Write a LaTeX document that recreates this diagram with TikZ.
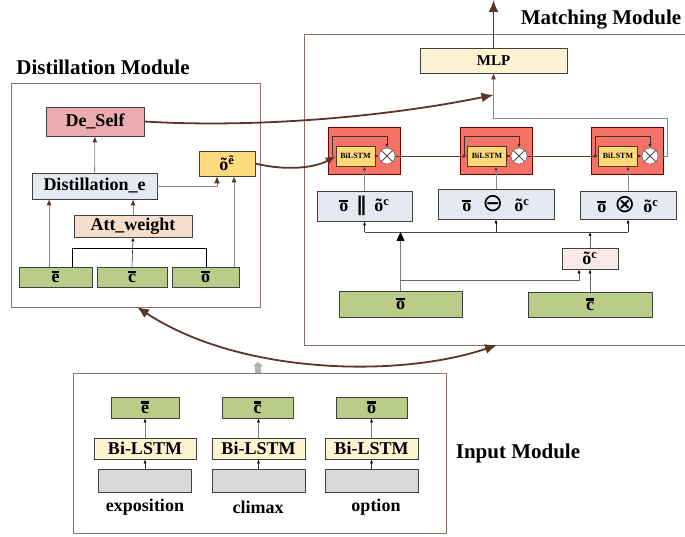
\documentclass[tikz,border=0pt]{standalone}
\usepackage{fontspec}
\setmainfont{Liberation Serif}
\newfontfamily\symf{DejaVu Sans}
\usetikzlibrary{arrows.meta}

\definecolor{brn}{RGB}{92,52,40}
\definecolor{frm}{RGB}{140,112,104}
\definecolor{lng}{RGB}{150,132,128}
\definecolor{vgreen}{RGB}{185,205,137}
\definecolor{selfred}{RGB}{236,171,174}
\definecolor{bluegr}{RGB}{228,233,242}
\definecolor{oyel}{RGB}{253,220,128}
\definecolor{peach}{RGB}{247,221,203}
\definecolor{cream}{RGB}{253,242,210}
\definecolor{cellred}{RGB}{244,115,102}
\definecolor{cellyel}{RGB}{253,218,120}
\definecolor{ocpink}{RGB}{251,232,232}
\definecolor{embgray}{RGB}{217,217,217}

\newcommand{\vb}[1]{\leavevmode\vbox{\hrule height 2.4pt\kern 1.2pt\hbox{\bfseries #1}}}

\begin{document}
\begin{tikzpicture}[x=1pt, y=-1pt,
        box/.style={draw=black!75, line width=0.7pt, inner sep=0pt, font=\fontsize{18}{20}\selectfont\bfseries},
        vec/.style={box, fill=vgreen},
        modframe/.style={draw=frm, line width=0.8pt},
        title/.style={font=\fontsize{21}{24}\selectfont\bfseries},
        cell/.style={draw=red!45!black, fill=cellred, line width=0.6pt, minimum width=72pt, minimum height=47pt},
        lstm/.style={draw=brn, fill=cellyel, line width=0.6pt, minimum width=39pt, minimum height=20pt, inner sep=0pt, font=\fontsize{8}{9}\selectfont\bfseries},
        mul/.style={circle, draw=black!70, fill=white, minimum size=16pt, inner sep=0pt,
            path picture={\draw[black!70, line width=0.8pt] (path picture bounding box.45) -- (path picture bounding box.225)
                (path picture bounding box.135) -- (path picture bounding box.315);}},
        arrow/.style={draw=lng, line width=0.8pt, -{Latex[length=6pt,width=5pt,color=brn]}},
        cellarrow/.style={draw=black!80, line width=0.6pt, -{Latex[length=4pt,width=3.5pt]}},
        small/.style={draw=black!80, line width=0.6pt, -{Latex[length=4pt,width=3pt,color=black]}},
        big/.style={draw=brn, line width=1.8pt, -{Latex[length=12pt,width=10pt]}}
    ]
    \useasboundingbox (0,0) rectangle (685,537);

    % Distillation module
    \node[title] (disttitle) at (103,67) {Distillation Module};
    \draw[modframe] (11,83) rectangle (260,307);
    \node[box, fill=selfred, minimum width=98pt, minimum height=29pt] (deself) at (95,121.5) {De\_Self};
    \node[box, fill=bluegr, minimum width=125pt, minimum height=26pt] (diste) at (94.5,186) {Distillation\_e};
    \node[box, fill=oyel, minimum width=56pt, minimum height=25pt] (oe) at (227,163.5) {õ\textsuperscript{ẽ}};
    \node[box, fill=peach, minimum width=118pt, minimum height=22pt] (attw) at (133,226) {Att\_weight};
    \node[vec, minimum width=73pt, minimum height=20pt] (de) at (55.5,277) {\vb{e}};
    \node[vec, minimum width=70pt, minimum height=20pt] (dc) at (132,277) {\vb{c}};
    \node[vec, minimum width=67pt, minimum height=20pt] (do) at (205.5,277) {\vb{o}};

    \draw[arrow] (diste) -- (deself);
    \draw[arrow] ([xshift=-6.5pt]de.north) -- ([xshift=-6.5pt]de.north |- diste.south);
    \draw[arrow] (attw.north) -- (attw.north |- diste.south);
    \draw[arrow, -{Latex[length=7pt,width=6pt,color=brn]}] (diste.east) -| ([xshift=-10pt]oe.south);
    \draw[arrow] ([xshift=28.5pt]do.north) -- ([xshift=7pt]oe.south);
    \draw[black, line width=0.6pt] ([xshift=16.5pt]de.north) -- ++(0,-18) -| ([xshift=0.5pt]do.north);
    \draw[small] (dc.north) -- (attw.south);

    % Matching module
    \node[title] (matchtitle) at (601,20) {Matching Module};
    \draw[modframe] (304,34) rectangle (700,345);
    \node[box, fill=cream, minimum width=147pt, minimum height=25pt, font=\fontsize{15}{17}\selectfont\bfseries] (mlp) at (493.5,60.5) {MLP};
    \coordinate (out) at (493.5,0);
    \draw[big] (mlp) -- (out);

    \foreach \i/\cx/\lx/\mx in {1/364/355.5/387, 2/496/487/519, 3/627.5/618/650} {
        \node[cell] (cell\i) at (\cx,150.5) {};
        \node[lstm] (bl\i) at (\lx,156) {BiLSTM};
        \node[mul] (mul\i) at (\mx,156) {};
        \draw[cellarrow] (bl\i) -- (mul\i);
        \coordinate (in\i) at ([xshift=-3pt]bl\i.west);
        \draw[cellarrow] (in\i) |- ([yshift=20pt]mul\i.center) -- (mul\i.north);
    }
    \draw[cellarrow, draw=brn] (mul1) -- (bl2);
    \draw[cellarrow, draw=brn] (mul2) -- (bl3);
    \draw[arrow] (mul3.east) -- ++(9,0) |- ([yshift=-45pt]mlp.south) -- (mlp.south);

    \node[box, fill=bluegr, minimum width=95pt, minimum height=30pt] (op1) at (364.5,206)
        {\vb{o}\hspace{8pt}{\symf\bfseries\fontsize{20}{20}\selectfont ∥}\hspace{8pt}õ\textsuperscript{c}};
    \node[box, fill=bluegr, minimum width=116pt, minimum height=30pt] (op2) at (496,204)
        {\vb{o}\hspace{11pt}{\symf\mdseries\fontsize{25}{25}\selectfont ⊖}\hspace{11pt}õ\textsuperscript{c}};
    \node[box, fill=bluegr, minimum width=96pt, minimum height=28pt] (op3) at (628,205)
        {\vb{o}\hspace{8pt}{\symf\mdseries\fontsize{25}{25}\selectfont ⊗}\hspace{8pt}õ\textsuperscript{c}};
    \foreach \k in {1,2,3}
        \draw[arrow, -{Latex[length=4pt,width=3pt,color=brn]}] (op\k.north) -- (op\k.north |- bl\k.south);

    \node[box, fill=ocpink, minimum width=56pt, minimum height=21pt] (oc) at (590,258.5) {õ\textsuperscript{c}};
    \node[vec, minimum width=123pt, minimum height=26pt] (mo) at (400.5,304) {\vb{o}};
    \node[vec, minimum width=124pt, minimum height=25pt] (mc) at (590,304.5) {\vb{c}};

    \coordinate (hub) at (400,232);
    \draw[black!70, line width=0.6pt] (op1.south |- hub) -- (op3.south |- hub);
    \foreach \k in {1,2,3}
        \draw[small] (op\k.south |- hub) -- (op\k.south);
    \draw[draw=black!50, line width=0.8pt, -{Triangle[length=9pt,width=8pt,color=black]}] (mo.north) -- (mo.north |- hub);
    \draw[small, draw=black!60] ([yshift=10pt]mo.north) -| ([xshift=-11pt]oc.south);
    \draw[small, draw=black!60] (mc.north) -- (oc.south);
    \draw[small, draw=black!60] (oc.north) -- (oc.north |- hub);

    % Links between modules
    \coordinate (mlpin) at (493.5,95);
    \draw[big] (deself.east) .. controls (250,128) and (380,118) .. (mlpin);
    \draw[big, -{Latex[length=10pt,width=8pt]}] (oe.east) .. controls (285,171) and (315,168) .. (bl1.west);
    \coordinate (dtip) at (137,307);
    \coordinate (mtip) at (497,345);
    \draw[big, {Latex[length=12pt,width=10pt]}-{Latex[length=12pt,width=10pt]}] (dtip) .. controls (240,375) and (400,378) .. (mtip);

    % Input module
    \draw[modframe] (73,373) rectangle (446,533);
    \node[title] (intitle) at (518,453) {Input Module};
    \coordinate (intop) at (258,373);
    \draw[draw=gray!60, line width=6pt, -{Triangle[length=4pt,width=10pt]}] (intop) -- ++(0,-11);
    \foreach \n/\vx/\vw/\bx/\bw/\lx/\v/\lab in {1/145/68/145/102/145/e/exposition,
            2/257.5/71/258.5/93/258/c/climax, 3/371.5/71/371.5/93/376/o/option} {
        \node[vec, minimum width=\vw pt, minimum height=21pt] (iv\n) at (\vx,407.5) {\vb{\v}};
        \node[box, fill=cream, minimum width=\bw pt, minimum height=21pt] (bi\n) at (\bx,448.5) {Bi-LSTM};
        \node[box, fill=embgray, minimum width=93pt, minimum height=23pt] (emb\n) at (\bx,480.5) {};
        \node[font=\fontsize{18}{20}\selectfont\bfseries] (lab\n) at (\lx,507) {\lab};
        \draw[small] (emb\n) -- (bi\n);
        \draw[small, draw=black!50] (bi\n) -- (bi\n.north |- iv\n.south);
    }
\end{tikzpicture}
\end{document}
